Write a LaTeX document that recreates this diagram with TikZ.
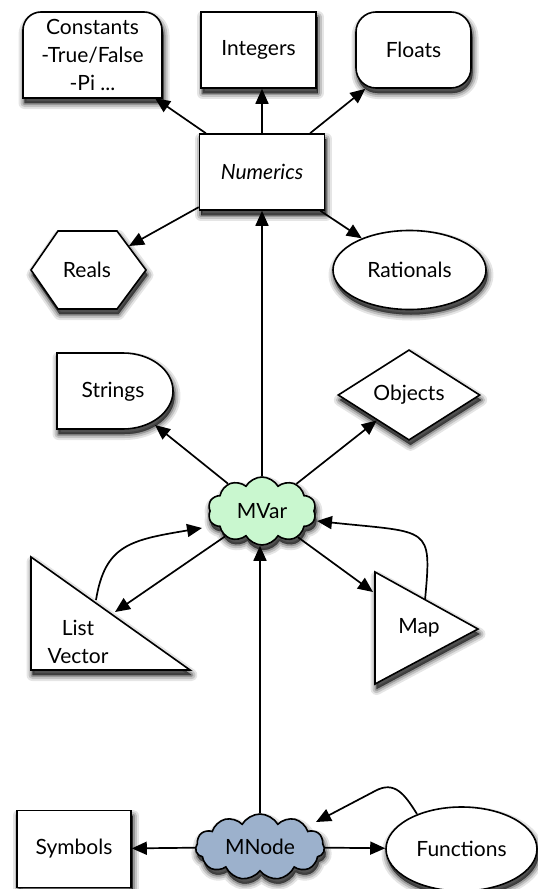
\documentclass[tikz,border=0pt]{standalone}
\usepackage{fontspec}
\setmainfont{Lato}
\usetikzlibrary{shapes.symbols,shapes.geometric,arrows.meta}
\definecolor{mvarfill}{RGB}{201,247,207}
\definecolor{mnodefill}{RGB}{156,177,204}
\begin{document}
\begin{tikzpicture}[x=1pt,y=-1pt,
  shadowlayer/.style 2 args={preaction={fill=black, draw=black, line join=round,
    opacity=#1, line width=#2, transform canvas={xshift=1.5pt, yshift=-5pt}}},
  softshadow/.style={shadowlayer={0.10}{12pt}, shadowlayer={0.15}{8pt},
    shadowlayer={0.22}{4pt}, shadowlayer={0.30}{0.5pt}},
  shp/.style={softshadow, draw=black, line width=1.6pt, fill=white},
  lbl/.style={font=\fontsize{21}{28}\selectfont, inner sep=0pt, align=center},
  box/.style={shp, lbl, rectangle, minimum width=#1},
  conn/.style={line width=1.7pt, -{Triangle[length=15pt,width=13pt]}},
]
\useasboundingbox (0,0) rectangle (538,889);

% ---------- numeric family ----------
\draw[shp] (23,98) -- (23,30) .. controls (23,20) and (31,12) .. (41,12)
  -- (144,12) .. controls (154,12) and (162,20) .. (162,30) -- (162,98) -- cycle;
\node[lbl, minimum width=139pt, minimum height=86pt] (const) at (92.5,55)
  {Constants\\-True/False\\-Pi ...};
\node[box=115pt, minimum height=76pt] (int) at (258.5,50) {Integers};
\node[box=115pt, minimum height=76pt, rounded corners=20pt] (flt) at (413.5,50) {Floats};
\node[box=125pt, minimum height=76pt] (num) at (262,172) {\itshape Numerics};

\draw[shp] (31,270) -- (58,231) -- (117,231) -- (146,270) -- (117,309) -- (58,309) -- cycle;
\node[lbl] (reals) at (87,270) {Reals};
\coordinate (reals-in) at (129,246);
\node[shp, lbl, ellipse, minimum width=153pt, minimum height=79pt] (rat) at (409.5,270) {Rationals};

% ---------- MVar family ----------
\draw[shp] (57,353) -- (123,353) .. controls (150.6,353) and (173,370) .. (173,391)
  .. controls (173,412) and (150.6,429) .. (123,429) -- (57,429) -- cycle;
\node[lbl] (str) at (113,392) {Strings};
\coordinate (str-in) at (155,425);

\node[shp, lbl, diamond, minimum width=142pt, minimum height=85pt] (obj) at (409,395) {Objects};

\node[shp, lbl, cloud, cloud puffs=10, cloud puff arc=120, cloud ignores aspect,
  minimum width=108pt, minimum height=68pt, fill=mvarfill] (mvar) at (262,511) {MVar};

\draw[shp] (31,557) -- (190,670) -- (31,670) -- cycle;
\node[lbl] (list) at (78,642) {List\\Vector};
\coordinate (list-in) at (115,612);
\coordinate (list-out) at (96,600);
\coordinate (mvar-l) at (202,528);

\draw[shp] (375,572) -- (478,629) -- (375,684) -- cycle;
\node[lbl] (map) at (419,628) {Map};
\coordinate (map-in) at (373,592);
\coordinate (map-out) at (425,600);
\coordinate (mvar-r) at (317,521);

% ---------- MNode family ----------
\node[shp, lbl, cloud, cloud puffs=11, cloud puff arc=120, cloud ignores aspect,
  minimum width=129pt, minimum height=66pt, fill=mnodefill] (mnode) at (260,847) {MNode};
\node[box=114pt, minimum height=77pt] (sym) at (74,849) {Symbols};
\node[shp, lbl, ellipse, minimum width=151pt, minimum height=84pt] (func) at (461.5,849) {Functions};
\coordinate (func-out) at (417,814);
\coordinate (mnode-in) at (316,822);

% ---------- connectors ----------
\draw[conn] (num) -- (const);
\draw[conn] (num.north) -- (num.north |- int.south);
\draw[conn] (num) -- (flt);
\draw[conn] (num) -- (reals-in);
\draw[conn] (num) -- (rat);
\draw[conn] (mvar.north) -- (mvar.north |- num.south);
\draw[conn] (mvar) -- (str-in);
\draw[conn] (mvar) -- (obj);
\draw[conn] (mvar) -- (list-in);
\draw[conn] (list-out) .. controls (105,545) and (130,540) .. (mvar-l);
\draw[conn] (mvar) -- (map-in);
\draw[conn] (map-out) .. controls (432,525) and (430,533) .. (mvar-r);
\draw[conn] (mnode.north) -- (mnode.north |- mvar.south);
\draw[conn] (mnode) -- (sym);
\draw[conn] (mnode) -- (func);
\draw[conn] (func-out) .. controls (405,795) and (395,780) .. (375,791) -- (mnode-in);
\end{tikzpicture}
\end{document}
